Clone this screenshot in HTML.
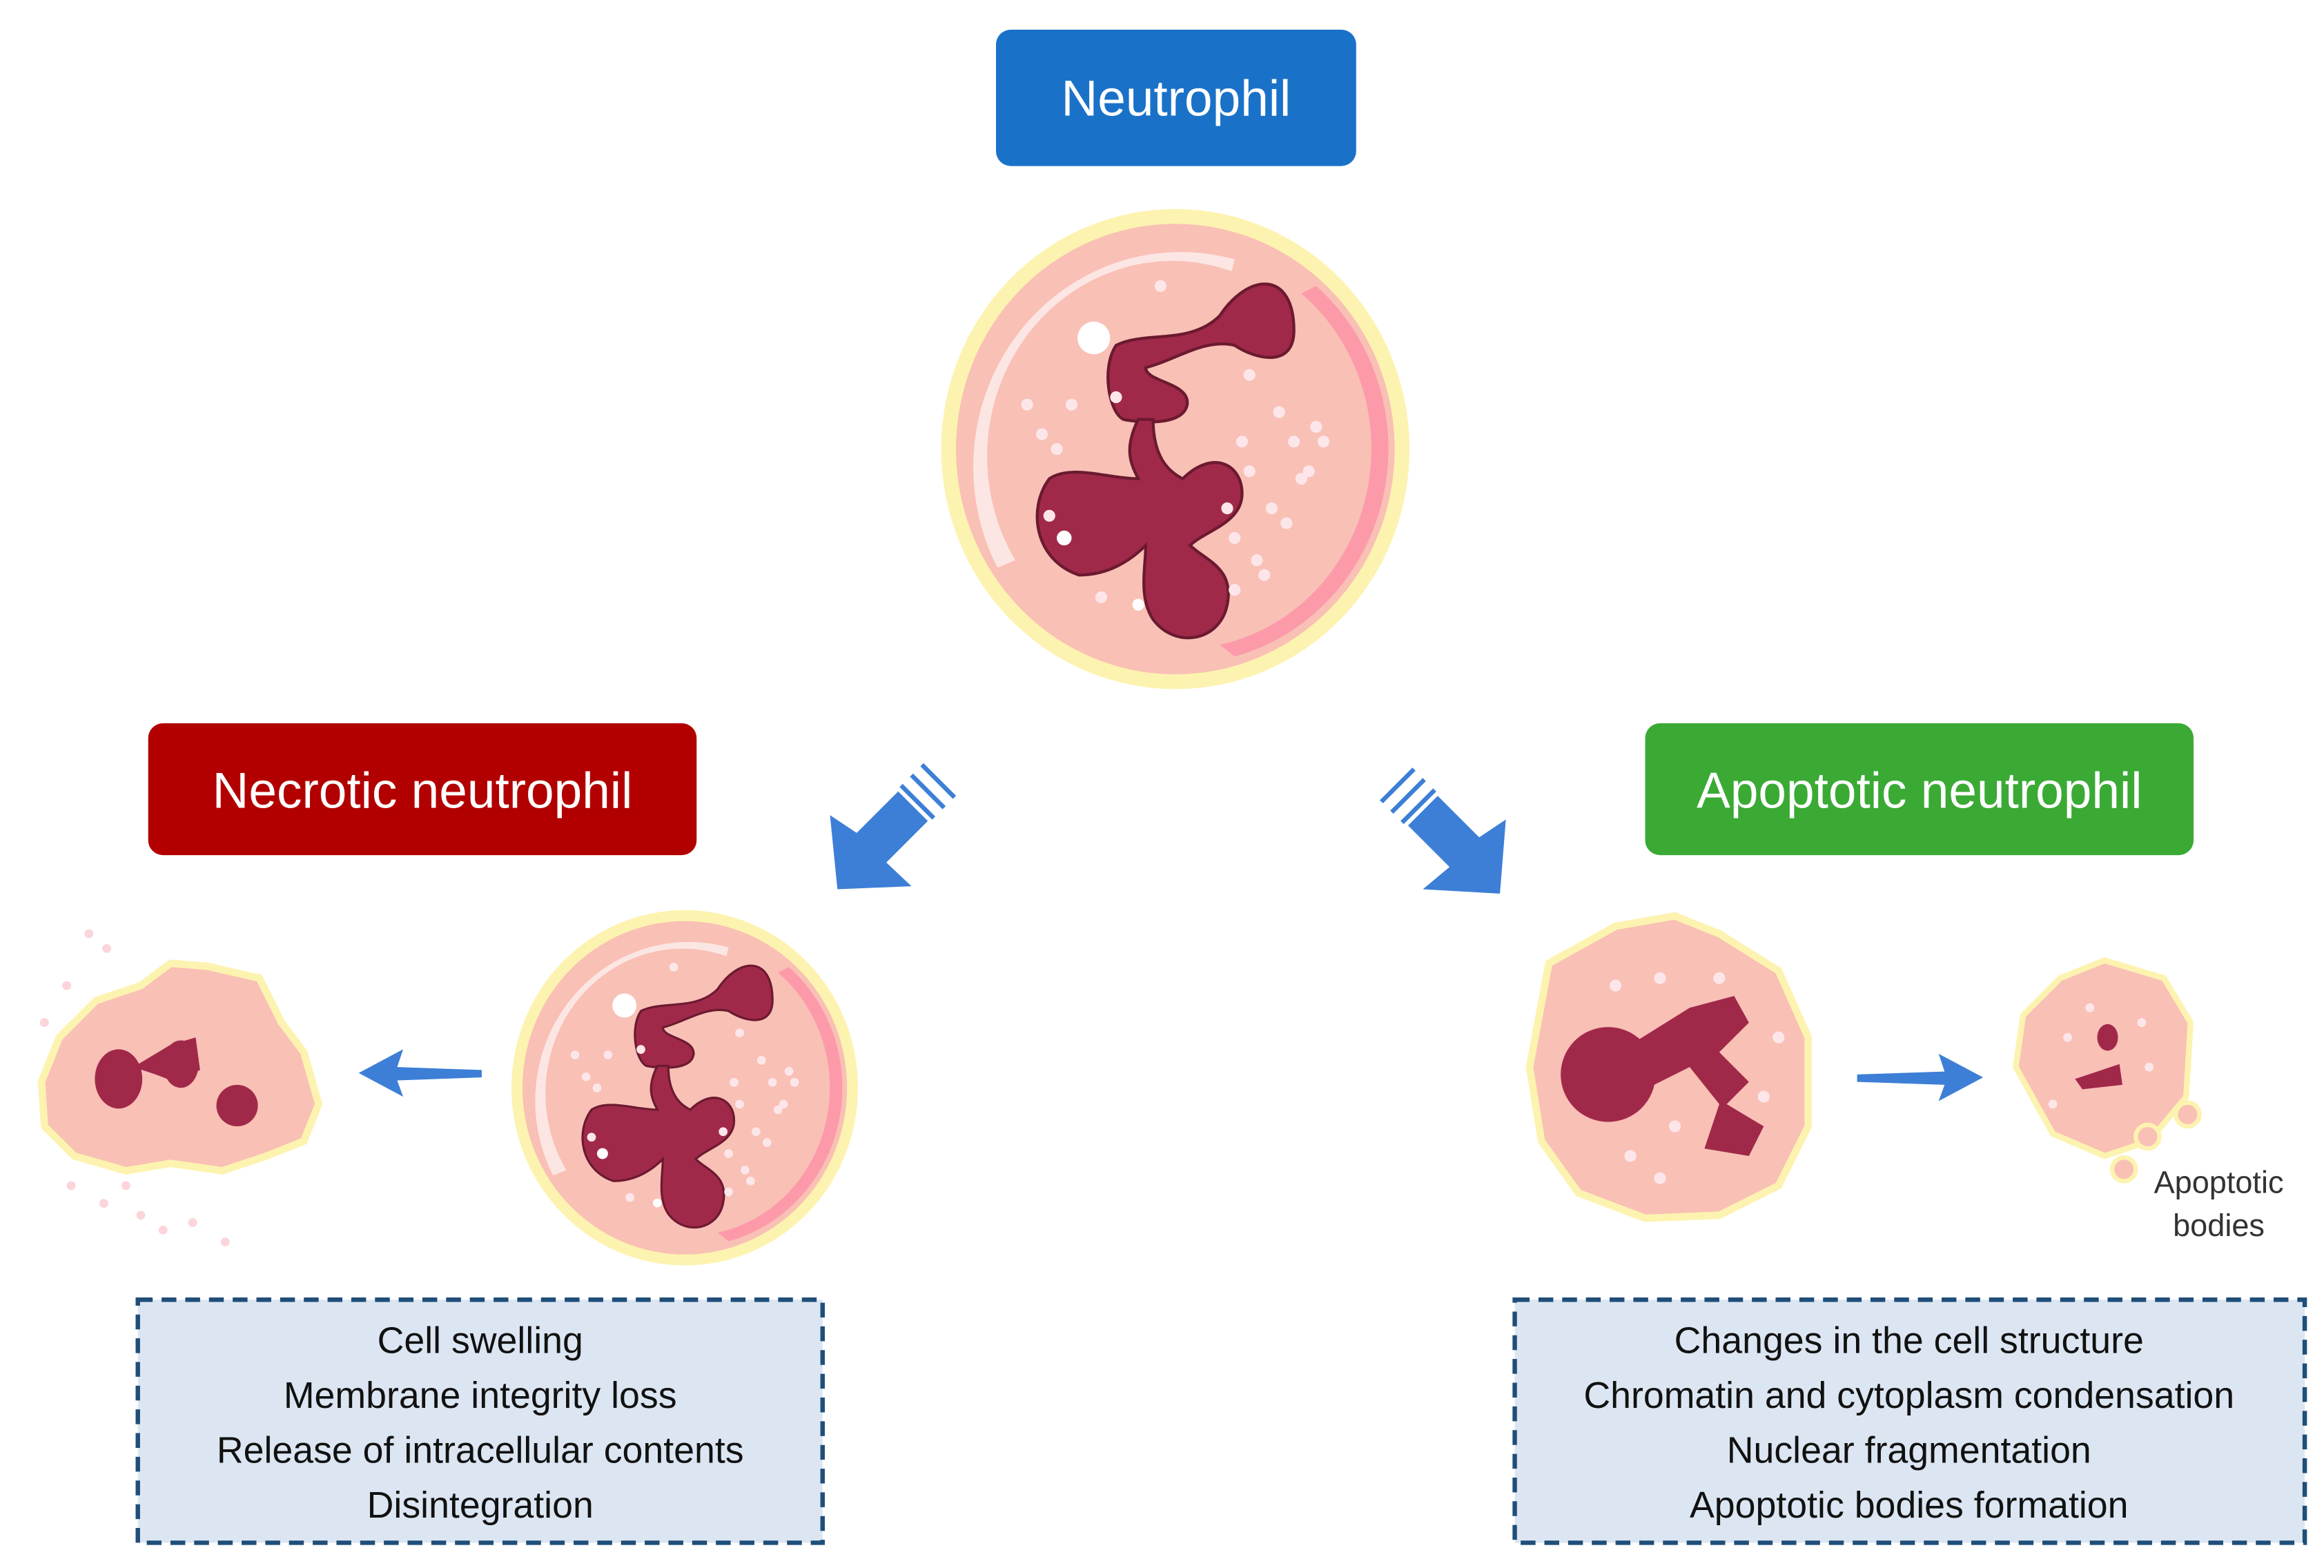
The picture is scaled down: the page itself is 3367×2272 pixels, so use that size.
<!DOCTYPE html>
<html><head><meta charset="utf-8"><style>
html,body{margin:0;padding:0;background:#fff;}
svg{display:block;}
text{font-family:"Liberation Sans",sans-serif;}
</style></head><body>
<svg width="3367" height="2272" viewBox="0 0 1568 1058" xmlns="http://www.w3.org/2000/svg">
<defs>
<g id="cell">
  <ellipse cx="0" cy="0" rx="158" ry="162" fill="#fdf3b0"/>
  <ellipse cx="0" cy="0" rx="148" ry="152" fill="#f9c0b5"/>
  <path d="M95,-110 A140,145 0 0 1 40,140 L30,132 A128,135 0 0 0 85,-105 Z" fill="#fc9aaa"/>
  <path d="M-120,80 A140,145 0 0 1 40,-128 L38,-120 A125,132 0 0 0 -108,75 Z" fill="#fdeff0" opacity="0.8"/>
  <g fill="#a0294a" stroke="#6b1a30" stroke-width="2">
    <path d="M30,-90 C50,-120 80,-120 80,-80 C80,-55 55,-60 40,-70 C20,-75 0,-60 -20,-55 C-20,-45 10,-45 8,-30 C5,-15 -25,-18 -35,-20 C-45,-25 -50,-55 -40,-70 C-20,-80 10,-70 30,-90 Z"/>
    <path d="M-25,-20 C-35,0 -30,10 -25,20 C-45,20 -70,10 -85,20 C-100,40 -95,75 -65,85 C-45,85 -30,75 -20,65 C-20,80 -25,100 -15,115 C0,135 30,130 35,105 C40,80 20,75 10,65 C20,55 45,50 45,30 C45,10 25,0 5,20 C-5,15 -15,5 -15,-20 Z"/>
  </g>
  <circle cx="-55" cy="-75" r="11" fill="#fff"/>
  <g fill="#fde6ea"><circle cx="-70" cy="-30" r="4"/><circle cx="-90" cy="-10" r="4"/><circle cx="70" cy="-25" r="4"/><circle cx="95" cy="-15" r="4"/><circle cx="45" cy="-5" r="4"/><circle cx="85" cy="20" r="4"/><circle cx="65" cy="40" r="4"/><circle cx="55" cy="75" r="4"/><circle cx="40" cy="95" r="4"/><circle cx="-85" cy="45" r="4"/><circle cx="-50" cy="100" r="4"/><circle cx="-10" cy="-110" r="4"/><circle cx="-75" cy="60" r="5" fill="#fff"/><circle cx="-25" cy="105" r="4" fill="#fff"/><circle cx="35" cy="40" r="4"/><circle cx="100" cy="-5" r="4"/><circle cx="-100" cy="-30" r="4"/><circle cx="-80" cy="0" r="4"/><circle cx="-40" cy="-35" r="4"/><circle cx="50" cy="-50" r="4"/><circle cx="80" cy="-5" r="4"/><circle cx="90" cy="15" r="4"/><circle cx="50" cy="15" r="4"/><circle cx="40" cy="60" r="4"/><circle cx="60" cy="85" r="4"/><circle cx="75" cy="50" r="4"/></g>
</g>
</defs>

<rect x="672" y="20" width="243" height="92" rx="10" fill="#1a72c8"/>
<text x="793.5" y="78" font-size="34" fill="#fff" text-anchor="middle">Neutrophil</text>

<use href="#cell" transform="translate(793,303)"/>
<use href="#cell" transform="translate(462,734) scale(0.74)"/>

<rect x="100" y="488" width="370" height="89" rx="10" fill="#b20000"/>
<text x="285" y="545" font-size="34" fill="#fff" text-anchor="middle">Necrotic neutrophil</text>
<rect x="1110" y="488" width="370" height="89" rx="10" fill="#3aaa35"/>
<text x="1295" y="545" font-size="34" fill="#fff" text-anchor="middle">Apoptotic neutrophil</text>

<g fill="#3d7fd6">
  <path d="M565,600 L560,550 L578,562 L606,534 L626,554 L598,582 L615,598 Z"/>
  <g stroke="#3d7fd6" stroke-width="3"><line x1="608" y1="530" x2="630" y2="552"/><line x1="615" y1="523" x2="637" y2="545"/><line x1="622" y1="516" x2="644" y2="538"/></g>
  <path d="M1012,603 L1016,553 L998,565 L970,537 L950,557 L978,585 L960,600 Z"/>
  <g stroke="#3d7fd6" stroke-width="3"><line x1="968" y1="533" x2="946" y2="555"/><line x1="961" y1="526" x2="939" y2="548"/><line x1="954" y1="519" x2="932" y2="541"/></g>
  <path d="M242,724 L272,708 L268,720 L325,722 L325,727 L268,729 L272,740 Z"/>
  <path d="M1338,727 L1308,711 L1312,723 L1253,725 L1253,730 L1312,732 L1308,743 Z"/>
</g>

<path d="M40,700 L65,675 L95,665 L115,650 L140,652 L175,660 L190,690 L205,710 L215,745 L205,770 L180,780 L150,790 L115,785 L85,790 L50,780 L30,760 L28,730 Z" fill="#f9c0b5" stroke="#fdf3b0" stroke-width="5"/>
<g fill="#a0294a"><ellipse cx="80" cy="728" rx="16" ry="20"/><path d="M90,720 L115,705 L132,700 L135,722 L118,730 L105,725 Z"/><ellipse cx="122" cy="718" rx="12" ry="16"/><ellipse cx="160" cy="746" rx="14" ry="14"/></g>
<g fill="#fbd5da"><circle cx="30" cy="690" r="3"/><circle cx="45" cy="665" r="3"/><circle cx="60" cy="630" r="3"/><circle cx="72" cy="640" r="3"/><circle cx="48" cy="800" r="3"/><circle cx="70" cy="812" r="3"/><circle cx="95" cy="820" r="3"/><circle cx="110" cy="830" r="3"/><circle cx="130" cy="825" r="3"/><circle cx="152" cy="838" r="3"/><circle cx="85" cy="800" r="3"/></g>

<path d="M1045,650 L1090,625 L1130,618 L1160,630 L1200,655 L1220,700 L1220,760 L1200,800 L1160,820 L1110,822 L1065,805 L1040,770 L1032,720 Z" fill="#f9c0b5" stroke="#fdf3b0" stroke-width="5"/>
<g fill="#a0294a"><ellipse cx="1085" cy="725" rx="32" ry="32"/><path d="M1100,705 L1140,680 L1170,672 L1180,690 L1160,710 L1180,730 L1165,745 L1190,760 L1180,780 L1150,775 L1160,745 L1140,720 L1110,735 Z"/></g>
<g fill="#fde6ea"><circle cx="1090" cy="665" r="4"/><circle cx="1120" cy="660" r="4"/><circle cx="1160" cy="660" r="4"/><circle cx="1200" cy="700" r="4"/><circle cx="1130" cy="760" r="4"/><circle cx="1100" cy="780" r="4"/><circle cx="1120" cy="795" r="4"/><circle cx="1190" cy="740" r="4"/></g>
<path d="M1365,685 L1390,660 L1420,648 L1460,660 L1478,690 L1475,740 L1450,770 L1420,780 L1385,765 L1360,720 Z" fill="#f9c0b5" stroke="#fdf3b0" stroke-width="4"/>
<g fill="#a0294a"><ellipse cx="1422" cy="700" rx="7" ry="9"/><path d="M1400,728 L1430,718 L1432,732 L1405,735 Z"/></g>
<g fill="#fde6ea"><circle cx="1395" cy="700" r="3"/><circle cx="1410" cy="680" r="3"/><circle cx="1445" cy="690" r="3"/><circle cx="1450" cy="720" r="3"/><circle cx="1385" cy="745" r="3"/></g>
<g fill="#f9c0b5" stroke="#fdf3b0" stroke-width="3"><circle cx="1476" cy="752" r="8"/><circle cx="1449" cy="767" r="8"/><circle cx="1433" cy="789" r="8"/></g>
<text x="1497" y="805" font-size="21" fill="#333" text-anchor="middle">Apoptotic</text>
<text x="1497" y="834" font-size="21" fill="#333" text-anchor="middle">bodies</text>

<rect x="93" y="877" width="462" height="164" fill="#dce6f2" stroke="#1f4e79" stroke-width="3" stroke-dasharray="10,6"/>
<g font-size="25" fill="#111" text-anchor="middle">
<text x="324" y="913">Cell swelling</text>
<text x="324" y="950">Membrane integrity loss</text>
<text x="324" y="987">Release of intracellular contents</text>
<text x="324" y="1024">Disintegration</text>
</g>
<rect x="1022" y="877" width="533" height="164" fill="#dce6f2" stroke="#1f4e79" stroke-width="3" stroke-dasharray="10,6"/>
<g font-size="25" fill="#111" text-anchor="middle">
<text x="1288" y="913">Changes in the cell structure</text>
<text x="1288" y="950">Chromatin and cytoplasm condensation</text>
<text x="1288" y="987">Nuclear fragmentation</text>
<text x="1288" y="1024">Apoptotic bodies formation</text>
</g>
</svg>
</body></html>
